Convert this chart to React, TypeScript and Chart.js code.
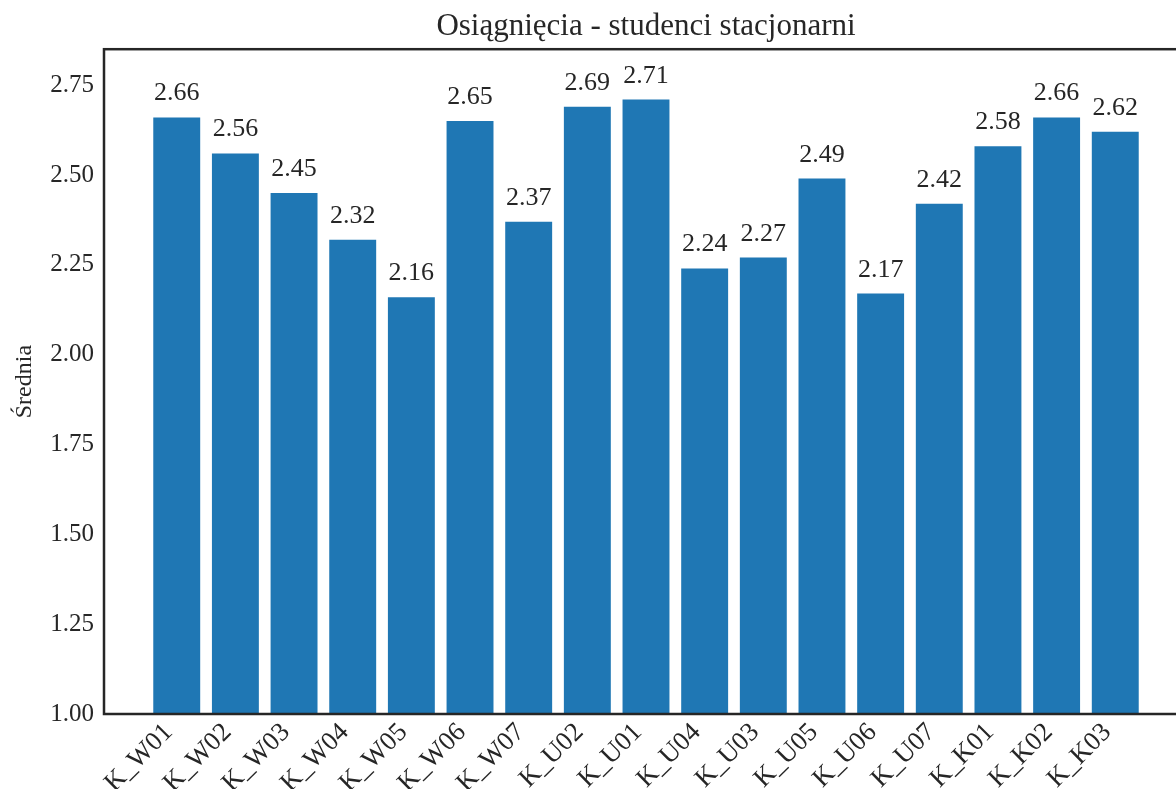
import React, { useEffect, useRef } from "react";
import { Chart, registerables } from "chart.js";

Chart.register(...registerables);

const categories = [
  "K_W01", "K_W02", "K_W03", "K_W04", "K_W05", "K_W06", "K_W07",
  "K_U02", "K_U01", "K_U04", "K_U03", "K_U05", "K_U06", "K_U07",
  "K_K01", "K_K02", "K_K03",
];
const averages = [
  2.66, 2.56, 2.45, 2.32, 2.16, 2.65, 2.37, 2.69, 2.71, 2.24, 2.27, 2.49, 2.17,
  2.42, 2.58, 2.66, 2.62,
];
const yTicks = [1.0, 1.25, 1.5, 1.75, 2.0, 2.25, 2.5, 2.75];

const FONT = "'Liberation Serif', 'DejaVu Serif', serif";
const TEXT = "#262626";

const framePlugin = {
  id: "frame",
  afterDraw(chart: any) {
    const { ctx, chartArea } = chart;
    ctx.save();
    ctx.strokeStyle = TEXT;
    ctx.lineWidth = 2.5;
    ctx.strokeRect(chartArea.left, chartArea.top, chartArea.right - chartArea.left, chartArea.bottom - chartArea.top);
    ctx.restore();
  },
};

const valueLabels = {
  id: "valueLabels",
  afterDatasetsDraw(chart: any) {
    const { ctx } = chart;
    const xs = chart.scales.x;
    const ys = chart.scales.y;
    ctx.save();
    ctx.fillStyle = TEXT;
    ctx.font = `26px ${FONT}`;
    ctx.textAlign = "center";
    ctx.textBaseline = "alphabetic";
    averages.forEach((v, i) => {
      ctx.fillText(v.toFixed(2), xs.getPixelForValue(i), ys.getPixelForValue(v) - 17);
    });
    ctx.restore();
  },
};

export default function App() {
  const ref = useRef<HTMLCanvasElement>(null);
  useEffect(() => {
    if (!ref.current) return;
    const chart = new Chart(ref.current, {
      type: "bar",
      data: {
        datasets: [
          {
            label: "Średnia",
            data: averages.map((v, i) => ({ x: i, y: v })),
            backgroundColor: "#1f77b4",
            borderWidth: 0,
            categoryPercentage: 0.8,
            barPercentage: 1.0,
            base: 1,
          } as any,
        ],
      },
      options: {
        animation: false,
        responsive: false,
        devicePixelRatio: 1,
        layout: { padding: { left: 0, right: 12, top: 0, bottom: 0 } },
        plugins: {
          legend: { display: false },
          tooltip: { enabled: false },
          title: {
            display: true,
            text: "Osiągnięcia - studenci stacjonarni",
            color: TEXT,
            font: { family: FONT, size: 31, weight: "normal" },
            padding: { top: 8, bottom: 4 },
            fullSize: false,
          },
        },
        scales: {
          x: {
            type: "linear",
            offset: false,
            min: -1.24,
            max: 17.24,
            grid: { display: false, drawTicks: false, offset: false },
            border: { display: false },
            afterBuildTicks: (scale: any) => {
              scale.ticks = categories.map((_, i) => ({ value: i }));
            },
            afterFit: (scale: any) => {
              scale.height = 75;
            },
            ticks: {
              autoSkip: false,
              maxRotation: 45,
              minRotation: 45,
              padding: 3,
              labelOffset: -8,
              color: TEXT,
              font: { family: FONT, size: 26.5 },
              callback: (v: any) => categories[Math.round(Number(v))] ?? "",
            },
          },
          y: {
            min: 1,
            max: 2.85,
            grid: { display: false, drawTicks: false },
            border: { display: false },
            afterBuildTicks: (scale: any) => {
              scale.ticks = yTicks.map((v) => ({ value: v }));
            },
            afterFit: (scale: any) => {
              scale.width = 104;
            },
            ticks: {
              padding: 10,
              color: TEXT,
              font: { family: FONT, size: 25 },
              callback: (v: any) => Number(v).toFixed(2),
            },
            title: {
              display: true,
              text: "Średnia",
              color: TEXT,
              font: { family: FONT, size: 24 },
              padding: { top: 10, bottom: 0 },
            },
          },
        },
      },
      plugins: [framePlugin, valueLabels],
    });
    return () => chart.destroy();
  }, []);
  return (
    <div
      style={{
        position: "fixed",
        left: 0,
        top: 0,
        width: 1176,
        height: 789,
        overflow: "hidden",
        background: "#fff",
      }}
    >
      <canvas ref={ref} width={1200} height={789} style={{ display: "block", width: 1200, height: 789 }} />
    </div>
  );
}
